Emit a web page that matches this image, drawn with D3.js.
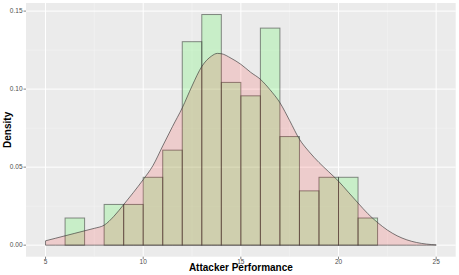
<!DOCTYPE html>
<html>
<head>
<meta charset="utf-8">
<script src="https://cdn.jsdelivr.net/npm/d3@7"></script>
<style>
  body { margin: 0; background: #fff; overflow: hidden; }
  svg { display: block; font-family: "Liberation Sans", Arial, sans-serif; }
</style>
</head>
<body>
<div id="chart"></div>
<script>
// histogram bins (left edge, width 1) and density heights
const binStarts = [6, 7, 8, 9, 10, 11, 12, 13, 14, 15, 16, 17, 18, 19, 20, 21];
const binDensity = [0.0174, 0, 0.0261, 0.0261, 0.0435, 0.0609, 0.1304, 0.1478, 0.1043, 0.0957, 0.1391, 0.0696, 0.0348, 0.0435, 0.0435, 0.0174];

// kernel density curve
const densX = [5, 5.5, 6, 6.5, 7, 7.5, 8, 8.5, 9, 9.5, 10, 10.5, 11, 11.5, 12, 12.5, 13, 13.5, 13.8, 14, 14.5, 15, 15.5, 16, 16.5, 17, 17.5, 18, 18.5, 19, 19.5, 20, 20.5, 21, 21.5, 22, 22.5, 23, 23.5, 24, 24.5, 25];
const densY = [0.0028, 0.0044, 0.006, 0.0076, 0.0092, 0.0108, 0.0128, 0.0185, 0.026, 0.0338, 0.042, 0.051, 0.0636, 0.076, 0.088, 0.102, 0.1145, 0.1212, 0.1229, 0.1227, 0.1198, 0.1159, 0.1108, 0.1063, 0.0995, 0.0913, 0.0798, 0.0679, 0.0598, 0.053, 0.047, 0.041, 0.034, 0.027, 0.0202, 0.0145, 0.0097, 0.006, 0.0034, 0.0017, 0.0007, 0.0002];

const xTicks = [5, 10, 15, 20, 25];
const yTicks = [0, 0.05, 0.10, 0.15];

const width = 459;
const height = 275;
const margin = { top: 3, right: 3.3, bottom: 18.3, left: 26 };
const innerWidth = width - margin.left - margin.right;
const innerHeight = height - margin.top - margin.bottom;

const svg = d3.select("#chart").append("svg")
  .attr("width", width)
  .attr("height", height);

const g = svg.append("g")
  .attr("transform", `translate(${margin.left},${margin.top})`);

const xScale = d3.scaleLinear().domain([4, 26]).range([0, innerWidth]);
const yMax = d3.max(binDensity);
const yScale = d3.scaleLinear().domain([-yMax * 0.05, yMax * 1.05]).range([innerHeight, 0]);

// panel background
g.append("rect")
  .attr("width", innerWidth)
  .attr("height", innerHeight)
  .attr("fill", "#EBEBEB");

// minor grid
const xMinor = [7.5, 12.5, 17.5, 22.5];
const yMinor = [0.025, 0.075, 0.125];
g.selectAll(".xminor").data(xMinor).enter().append("line")
  .attr("x1", d => xScale(d)).attr("x2", d => xScale(d))
  .attr("y1", 0).attr("y2", innerHeight)
  .attr("stroke", "#F5F5F5").attr("stroke-width", 0.5);
g.selectAll(".yminor").data(yMinor).enter().append("line")
  .attr("x1", 0).attr("x2", innerWidth)
  .attr("y1", d => yScale(d)).attr("y2", d => yScale(d))
  .attr("stroke", "#F5F5F5").attr("stroke-width", 0.5);

// major grid
g.selectAll(".xmajor").data(xTicks).enter().append("line")
  .attr("x1", d => xScale(d)).attr("x2", d => xScale(d))
  .attr("y1", 0).attr("y2", innerHeight)
  .attr("stroke", "#FFFFFF").attr("stroke-width", 1);
g.selectAll(".ymajor").data(yTicks).enter().append("line")
  .attr("x1", 0).attr("x2", innerWidth)
  .attr("y1", d => yScale(d)).attr("y2", d => yScale(d))
  .attr("stroke", "#FFFFFF").attr("stroke-width", 1);

// histogram bars
g.selectAll(".bar")
  .data(binStarts.map((s, i) => ({ x0: s, x1: s + 1, v: binDensity[i] })).filter(d => d.v > 0))
  .enter().append("rect")
  .attr("x", d => xScale(d.x0))
  .attr("y", d => yScale(d.v))
  .attr("width", d => xScale(d.x1) - xScale(d.x0))
  .attr("height", d => yScale(0) - yScale(d.v))
  .attr("fill", "#00FF00")
  .attr("fill-opacity", 0.15)
  .attr("stroke", "#333")
  .attr("stroke-opacity", 0.55)
  .attr("stroke-width", 1);

// density area
const densPts = densX.map((x, i) => [x, densY[i]]);
const area = d3.area()
  .x(d => xScale(d[0]))
  .y0(yScale(0))
  .y1(d => yScale(d[1]))
  .curve(d3.curveMonotoneX);

g.append("path")
  .datum(densPts)
  .attr("d", area(densPts) + "Z")
  .attr("fill", "#FF0000")
  .attr("fill-opacity", 0.13)
  .attr("stroke", "#333")
  .attr("stroke-opacity", 0.7)
  .attr("stroke-width", 0.9);

// axes ticks and labels
const tickColor = "#333";
g.selectAll(".ytick").data(yTicks).enter().append("line")
  .attr("x1", -2.5).attr("x2", 0)
  .attr("y1", d => yScale(d)).attr("y2", d => yScale(d))
  .attr("stroke", tickColor).attr("stroke-width", 0.6);
g.selectAll(".ylab").data(yTicks).enter().append("text")
  .attr("x", -3.5)
  .attr("y", d => yScale(d))
  .attr("dy", "0.35em")
  .attr("text-anchor", "end")
  .attr("font-size", "6.5px")
  .attr("fill", "#4D4D4D")
  .text(d => d3.format(".2f")(d));

g.selectAll(".xtick").data(xTicks).enter().append("line")
  .attr("x1", d => xScale(d)).attr("x2", d => xScale(d))
  .attr("y1", innerHeight).attr("y2", innerHeight + 2.5)
  .attr("stroke", tickColor).attr("stroke-width", 0.6);
g.selectAll(".xlab").data(xTicks).enter().append("text")
  .attr("x", d => xScale(d))
  .attr("y", innerHeight + 7.5)
  .attr("text-anchor", "middle")
  .attr("font-size", "6.5px")
  .attr("fill", "#4D4D4D")
  .text(d => d);

// axis titles
svg.append("text")
  .attr("x", margin.left + innerWidth / 2)
  .attr("y", 271)
  .attr("text-anchor", "middle")
  .attr("font-size", "10px")
  .attr("font-weight", "bold")
  .attr("fill", "#000")
  .text("Attacker Performance");

svg.append("text")
  .attr("transform", `translate(10.5,${margin.top + innerHeight / 2}) rotate(-90)`)
  .attr("text-anchor", "middle")
  .attr("font-size", "10px")
  .attr("font-weight", "bold")
  .attr("fill", "#000")
  .text("Density");
</script>
</body>
</html>
